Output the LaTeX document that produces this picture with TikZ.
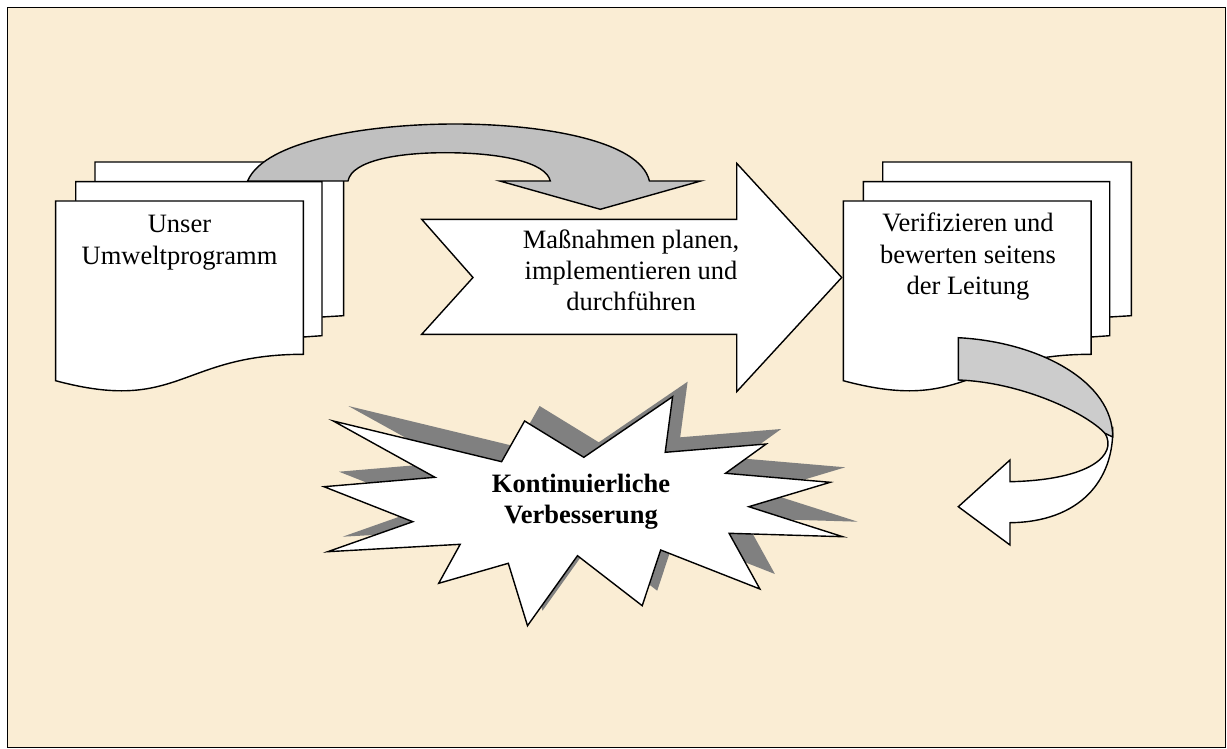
\documentclass[tikz,border=0pt]{standalone}
\usepackage{fontspec}
\setmainfont{Liberation Serif}
\definecolor{parch}{RGB}{250,237,212}
\definecolor{arrgray}{RGB}{192,192,192}
\definecolor{arrgraylt}{RGB}{204,204,204}
\definecolor{shadowgray}{RGB}{128,128,128}
\tikzset{
  outl/.style={draw=black, line width=1.4pt, line join=miter},
  pagebox/.style={outl, fill=white},
  txt/.style={inner sep=0pt, anchor=base, font=\fontsize{26.5}{31}\selectfont},
  btxt/.style={inner sep=0pt, anchor=base, font=\fontsize{26.5}{31}\selectfont\bfseries},
}
\begin{document}
\begin{tikzpicture}[x=1pt,y=-1pt]
\useasboundingbox (0,0) rectangle (1227,749);
\fill[white] (0,0) rectangle (1227,749);
\fill[parch] (7.5,7.5) rectangle (1225.5,747.5);
\draw[line width=1.5pt] (7.5,7.5) rectangle (1225.5,747.5);

% left document stack
\begin{scope}
  \path[pagebox] (95,162) -- (343.6,162) -- (343.6,315.7) -- (322,317) -- (95,317) -- cycle;
  \path[pagebox] (75.7,181.7) -- (322,181.7) -- (322,335.7) -- (303.4,337) -- (75.7,337) -- cycle;
  \path[pagebox] (55.6,201) -- (303.4,201) -- (303.4,354.3) .. controls (179.5,354.3) and (179.5,414) .. (55.6,380.7) -- cycle;
\end{scope}

% top curved arrow
\path[outl, fill=arrgray] (247.6,181) .. controls (265,140) and (370,124) .. (455,124)
  .. controls (540,124) and (640,140) .. (649.4,181) -- (700.7,181) -- (600.3,209.3) -- (499.8,181) -- (550.3,181)
  .. controls (546,162) and (500,152.7) .. (445,152.7)
  .. controls (400,152.7) and (352,160) .. (348,181) -- cycle;

% big arrow
\path[outl, fill=white] (421.7,219.3) -- (736.7,219.3) -- (736.7,163.3) -- (841.7,277.5)
  -- (736.7,391.7) -- (736.7,334.3) -- (421.7,334.3) -- (473,277.5) -- cycle;

% right document stack
\begin{scope}[xshift=787.7pt]
  \path[pagebox] (95,162) -- (343.6,162) -- (343.6,315.7) -- (322,317) -- (95,317) -- cycle;
  \path[pagebox] (75.7,181.7) -- (322,181.7) -- (322,335.7) -- (303.4,337) -- (75.7,337) -- cycle;
  \path[pagebox] (55.6,201) -- (303.4,201) -- (303.4,354.3) .. controls (179.5,354.3) and (179.5,414) .. (55.6,380.7) -- cycle;
\end{scope}

% right curved arrow: white underside with head
\path[outl, fill=white] (1105,433.3) .. controls (1118,455) and (1090,480) .. (1010,481.7)
  -- (1010,460) -- (958.3,506.7) -- (1010,545) -- (1010,522.7)
  .. controls (1080,522) and (1114,480) .. (1112.7,428) -- cycle;
% right curved arrow: gray top face
\path[outl, fill=arrgraylt] (958.3,337.7) .. controls (1040,342) and (1113,382) .. (1112.7,437)
  -- (1105,433.3) .. controls (1085,412) and (1020,382) .. (958.3,380) -- cycle;

% starburst shadow and starburst
\fill[shadowgray, shift={(15,-15)}] (333.3,421) -- (501.6,461.7) -- (524.6,421) -- (583.8,457.3) -- (672.6,396.7)
  -- (665.2,452.3) -- (766.2,444) -- (725.5,473.3) -- (830.2,482.3) -- (748.8,506.7) -- (842.7,536.7)
  -- (729.1,533.3) -- (759.9,589) -- (660.7,550) -- (642.2,605.7) -- (577.5,555.7) -- (527.5,625.7)
  -- (508.3,563.3) -- (438.7,583.3) -- (460.2,544.3) -- (327.7,551.7) -- (412.8,521.7) -- (324,486.7)
  -- (435,477.3) -- cycle;
\path[outl, fill=white] (333.3,421) -- (501.6,461.7) -- (524.6,421) -- (583.8,457.3) -- (672.6,396.7)
  -- (665.2,452.3) -- (766.2,444) -- (725.5,473.3) -- (830.2,482.3) -- (748.8,506.7) -- (842.7,536.7)
  -- (729.1,533.3) -- (759.9,589) -- (660.7,550) -- (642.2,605.7) -- (577.5,555.7) -- (527.5,625.7)
  -- (508.3,563.3) -- (438.7,583.3) -- (460.2,544.3) -- (327.7,551.7) -- (412.8,521.7) -- (324,486.7)
  -- (435,477.3) -- cycle;

% texts
\node[txt] (ua) at (179.5,233) {Unser};
\node[txt] (ub) at (179.5,264) {Umweltprogramm};
\node[txt] (ma) at (631,248.5) {Maßnahmen planen,};
\node[txt] (mb) at (631,279.5) {implementieren und};
\node[txt] (mc) at (631,310.5) {durchführen};
\node[txt] (va) at (968,232) {Verifizieren und};
\node[txt] (vb) at (968,263) {bewerten seitens};
\node[txt] (vc) at (968,294) {der Leitung};
\node[btxt] (ka) at (581,492.7) {Kontinuierliche};
\node[btxt] (kb) at (581,523.3) {Verbesserung};
\end{tikzpicture}
\end{document}
